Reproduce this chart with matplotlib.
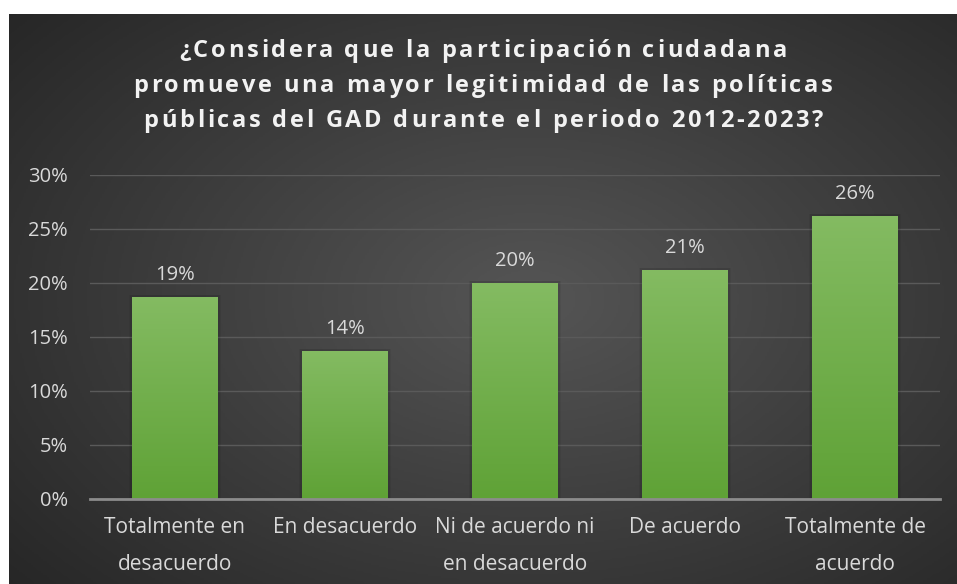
import numpy as np
import matplotlib.pyplot as plt
from matplotlib.colors import LinearSegmentedColormap
from matplotlib.font_manager import FontProperties

# --------------------------------
# Data
# --------------------------------
categories = ["Totalmente en\ndesacuerdo", "En desacuerdo", "Ni de acuerdo ni\nen desacuerdo",
              "De acuerdo", "Totalmente de\nacuerdo"]
values = [18.75, 13.75, 20.0, 21.25, 26.25]
labels = ["19%", "14%", "20%", "21%", "26%"]
yticks = [0, 5, 10, 15, 20, 25, 30]

title_lines = ["¿Considera que la participación ciudadana",
               "promueve una mayor legitimidad de las políticas",
               "públicas del GAD durante el periodo 2012-2023?"]

W, H = 957, 584
plt.rcParams['font.family'] = ['Open Sans', 'DejaVu Sans']
TXT = "#d9d9d9"
FS = 14.5

fig = plt.figure(figsize=(W / 100, H / 100), dpi=100)
fig.patch.set_facecolor("white")

# --------------------------------
# Radial gradient background
# --------------------------------
bg = fig.add_axes([9 / W, 0, (W - 9) / W, (H - 14) / H])
bg.set_axis_off()
yy, xx = np.mgrid[0:1:300j, 0:1:500j]
r = np.sqrt(((xx - 0.55) / 0.75) ** 2 + ((yy - 0.5) / 0.8) ** 2)
r = np.clip(r, 0, 1)
bg_cmap = LinearSegmentedColormap.from_list("bg", ["#555555", "#252525"])
bg.imshow(r, cmap=bg_cmap, aspect="auto", extent=[0, 1, 0, 1], vmin=0, vmax=1)
bg.set_xlim(0, 1)
bg.set_ylim(0, 1)

# --------------------------------
# Bars
# --------------------------------
ax = fig.add_axes([90 / W, 1 - 499 / H, 850 / W, 324 / H])
ax.patch.set_alpha(0)
x = np.arange(len(categories))
bars = ax.bar(x, values, width=0.505, color="#70ad47", zorder=3)

bar_cmap = LinearSegmentedColormap.from_list("bar", ["#5fa236", "#84bb62"])
grad = np.linspace(0, 1, 256).reshape(-1, 1)
for b in bars:
    bx, bw, bh = b.get_x(), b.get_width(), b.get_height()
    # soft shadow
    for k, a in [(0.035, 0.05), (0.02, 0.07)]:
        ax.bar(bx + bw / 2, bh + 0.15, width=bw + k, color="black", alpha=a, zorder=2)
    im = ax.imshow(grad, cmap=bar_cmap, aspect="auto", origin="lower",
                   extent=[bx, bx + bw, 0, bh], zorder=4)
    im.set_clip_path(b)

for xi, v, lab in zip(x, values, labels):
    ax.text(xi, v + 1.1, lab, ha="center", va="bottom", color=TXT, fontsize=FS)

ax.set_xlim(-0.5, 4.5)
ax.set_ylim(0, 30)
ax.set_yticks(yticks)
ax.set_yticklabels([f"{t}%" for t in yticks], color=TXT, fontsize=FS)
ax.set_xticks(x)
ax.set_xticklabels(categories, color=TXT, fontsize=FS + 0.5, linespacing=2.0)
ax.tick_params(axis="y", length=0, pad=16)
ax.tick_params(axis="x", length=0, pad=13)
ax.grid(axis="y", color="#5a5a5a", linewidth=1, zorder=0)
for s in ["top", "right", "left"]:
    ax.spines[s].set_visible(False)
ax.spines["bottom"].set_color("#8c8c8c")
ax.spines["bottom"].set_linewidth(2)
ax.spines["bottom"].set_zorder(5)

# --------------------------------
# Title with letter spacing
# --------------------------------
renderer = fig.canvas.get_renderer()
prop = FontProperties(family=['Open Sans', 'DejaVu Sans'], weight="bold", size=17)


def text_w(s):
    w, _, _ = renderer.get_text_width_height_descent(s, prop, ismath=False)
    return w


bar_w = text_w("|")
# spacing so that the widest line spans ~700 px
natural = text_w(title_lines[1])
spacing = (700 - natural) / (len(title_lines[1]) - 1)

for line, yc in zip(title_lines, [48, 83, 118]):
    pos = [text_w(line[:i] + "|") - bar_w + i * spacing for i in range(len(line))]
    total = pos[-1] + text_w(line[-1])
    x0 = 483 - total / 2
    for ch, p in zip(line, pos):
        if ch == " ":
            continue
        fig.text((x0 + p) / W, 1 - yc / H, ch, ha="left", va="center_baseline",
                 color="#f2f2f2", fontproperties=prop)

fig.savefig("out.png", dpi=100)
